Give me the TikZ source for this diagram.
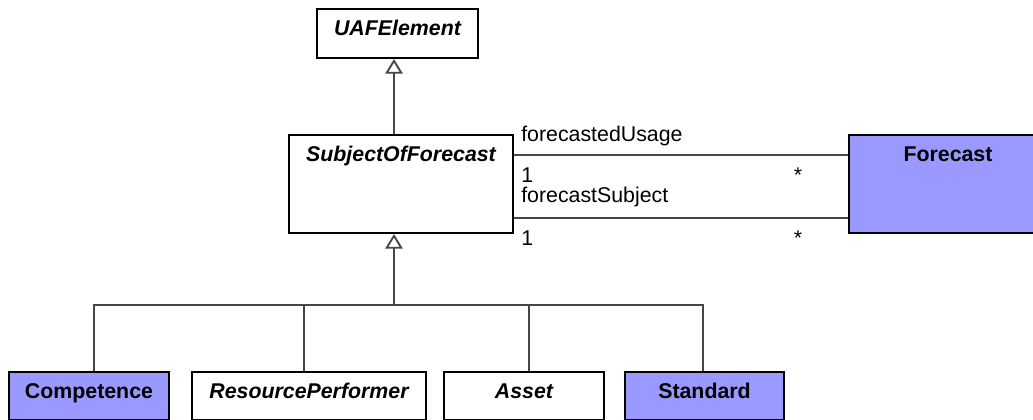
\documentclass[tikz,border=0pt]{standalone}
\usepackage{fontspec}
\setmainfont{Liberation Sans}
\usetikzlibrary{arrows.meta,calc}

\definecolor{classfill}{RGB}{153,153,255}
\definecolor{linegray}{RGB}{70,70,70}

\begin{document}
\begin{tikzpicture}[x=0.75pt, y=-0.75pt,
  classbox/.style={draw=black, line width=1.5pt, fill=white, inner sep=0pt,
    anchor=north west, text height=20.25pt,
    font=\fontsize{16}{19}\selectfont\bfseries},
  abstract/.style={classbox, font=\fontsize{16}{19}\selectfont\bfseries\itshape},
  stereo/.style={classbox, fill=classfill},
  gen/.style={draw=linegray, line width=1.4pt,
    -{Triangle[open, width=13pt, length=11pt]}},
  assoc/.style={draw=linegray, line width=1.4pt},
  role/.style={font=\fontsize{16}{19}\selectfont, anchor=base west, inner sep=0pt}
]

  \useasboundingbox (0,0) rectangle (1033,420);
  \clip (0,0) rectangle (1033,420);

  % classes
  \node[abstract, minimum width=120.75pt, text depth=16.5pt] (uaf) at (316,8) {UAFElement};
  \node[abstract, minimum width=168pt, text depth=53.25pt] (sof) at (288,134) {SubjectOfForecast};
  \node[stereo, minimum width=148.5pt, text depth=53.25pt] (fc) at (848,134) {Forecast};

  \node[stereo, minimum width=120pt, text depth=15.75pt] (comp) at (8,371) {Competence};
  \node[abstract, minimum width=175.5pt, text depth=15.75pt] (rp) at (191,371) {ResourcePerformer};
  \node[abstract, minimum width=120pt, text depth=15.75pt] (asset) at (443,371) {Asset};
  \node[stereo, minimum width=119.25pt, text depth=15.75pt] (std) at (624,371) {Standard};

  % generalizations
  \coordinate (hub) at (394,305);
  \draw[gen] (hub |- sof.north) -- (hub |- uaf.south);
  \draw[gen] (hub) -- (hub |- sof.south);
  \draw[assoc] ([xshift=3.75pt]comp.north) |- (hub) -| ([xshift=-1.125pt]std.north);
  \draw[assoc] ([xshift=-3.75pt]rp.north) -- ([xshift=-3.75pt]rp.north |- hub);
  \draw[assoc] ([xshift=3.75pt]asset.north) -- ([xshift=3.75pt]asset.north |- hub);

  % associations
  \coordinate (use1) at ($(sof.north east)+(0,21)$);
  \coordinate (use2) at ($(sof.north east)+(0,84)$);
  \draw[assoc] (use1) -- (use1 -| fc.west);
  \draw[assoc] (use2) -- (use2 -| fc.west);

  \node[role] (usagename) at ($(use1)+(7,-13)$) {forecastedUsage};
  \node[role] (usageone) at ($(use1)+(7,28)$) {1};
  \node[role, anchor=base] (usagemany) at ($(use1 -| fc.west)+(-50,28)$) {*};
  \node[role] (subjname) at ($(use2)+(7,-15)$) {forecastSubject};
  \node[role] (subjone) at ($(use2)+(7,28)$) {1};
  \node[role, anchor=base] (subjmany) at ($(use2 -| fc.west)+(-50,28)$) {*};

\end{tikzpicture}
\end{document}
